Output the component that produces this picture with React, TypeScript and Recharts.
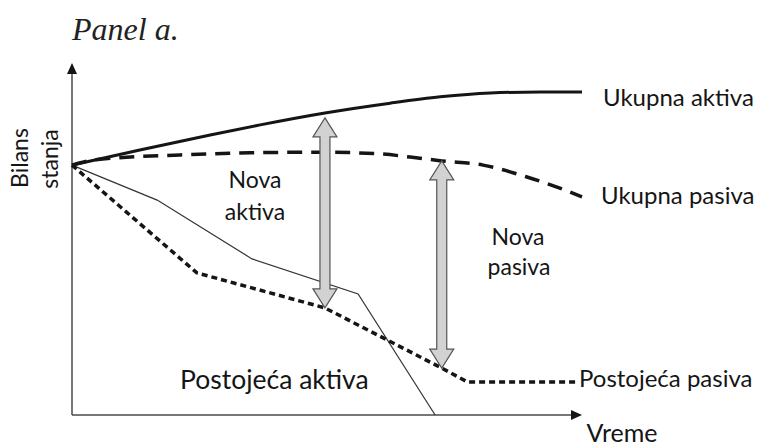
import { LineChart, Line, XAxis, YAxis, ReferenceLine } from "recharts";

// Balance sheet over time (schematic). x = time 0..100, y = balance 0..100.
const aktivaX = [0, 13.3, 27.1, 36.9, 49.6, 62.4, 72.2, 82.0, 91.8, 100];
const aktivaY = [71.4, 75.7, 80.0, 82.9, 86.3, 89.1, 90.9, 92.0, 92.3, 92.3];

const pasivaX = [0, 4.5, 21.2, 34.9, 48.6, 60.4, 66.3, 72.5, 80.6, 89.2, 95.1, 100];
const pasivaY = [71.4, 72.9, 74.3, 74.9, 75.1, 74.6, 73.7, 72.6, 71.4, 68.0, 65.1, 62.3];

const postPasivaX = [0, 24.5, 49.6, 72.5, 77.6, 99.2];
const postPasivaY = [71.4, 40.6, 30.6, 13.4, 9.4, 9.4];

const postAktivaX = [0, 16.7, 35.3, 56.1, 71.2];
const postAktivaY = [71.4, 61.4, 44.6, 34.6, 0];

// double arrows: [x, top, bottom]
const novaAktivaArrow = [49.6, 84.9, 30.6];
const novaPasivaArrow = [72.5, 72.6, 13.4];

const toPoints = (xs: number[], ys: number[]) => xs.map((x, i) => ({ x, y: ys[i] }));

const INK = "#151515";
const FONT = "Lato, 'Open Sans', sans-serif";

function AxisArrow(props: any) {
  const { x1, y1, x2, y2 } = props;
  const len = Math.hypot(x2 - x1, y2 - y1) || 1;
  const ux = (x2 - x1) / len;
  const uy = (y2 - y1) / len;
  const bx = x2 - ux * 11;
  const by = y2 - uy * 11;
  const px = -uy * 5;
  const py = ux * 5;
  return (
    <g>
      <line x1={x1} y1={y1} x2={bx} y2={by} stroke="#4a4a4a" strokeWidth={1.5} />
      <polygon points={`${x2},${y2} ${bx + px},${by + py} ${bx - px},${by - py}`} fill={INK} />
    </g>
  );
}

function DoubleArrow(props: any) {
  const { x1, y1, y2 } = props;
  const top = Math.min(y1, y2);
  const bot = Math.max(y1, y2);
  const hw = 12; // head half width
  const sw = 5; // shaft half width
  const hl = 19; // head length
  const x = x1;
  const pts = [
    [x, top],
    [x + hw, top + hl],
    [x + sw, top + hl],
    [x + sw, bot - hl],
    [x + hw, bot - hl],
    [x, bot],
    [x - hw, bot - hl],
    [x - sw, bot - hl],
    [x - sw, top + hl],
    [x - hw, top + hl],
  ]
    .map((p) => p.join(","))
    .join(" ");
  return <polygon points={pts} fill="#d2d2d2" stroke="#555" strokeWidth={1.2} />;
}

export default function App() {
  return (
    <div style={{ position: "absolute", left: 0, top: 0, width: 760, height: 448, background: "#fff" }}>
      <LineChart width={760} height={448} margin={{ top: 65, right: 178, bottom: 33, left: 72 }}>
        <XAxis type="number" dataKey="x" domain={[0, 100]} hide />
        <YAxis type="number" dataKey="y" domain={[0, 100]} hide />
        <ReferenceLine
          segment={[{ x: 0, y: 0 }, { x: 0, y: 100.6 }]}
          ifOverflow="visible"
          shape={(p: any) => <AxisArrow {...p} />}
        />
        <ReferenceLine
          segment={[{ x: 0, y: 0 }, { x: 100, y: 0 }]}
          ifOverflow="visible"
          shape={(p: any) => <AxisArrow {...p} />}
        />
        <Line
          data={toPoints(postAktivaX, postAktivaY)}
          dataKey="y"
          type="linear"
          stroke="#333"
          strokeWidth={1.2}
          dot={false}
          isAnimationActive={false}
        />
        <Line
          data={toPoints(postPasivaX, postPasivaY)}
          dataKey="y"
          type="linear"
          stroke={INK}
          strokeWidth={3.5}
          strokeDasharray="6 4"
          dot={false}
          isAnimationActive={false}
        />
        <Line
          data={toPoints(pasivaX, pasivaY)}
          dataKey="y"
          type="monotone"
          stroke={INK}
          strokeWidth={3.5}
          strokeDasharray="15 9"
          dot={false}
          isAnimationActive={false}
        />
        <Line
          data={toPoints(aktivaX, aktivaY)}
          dataKey="y"
          type="monotone"
          stroke={INK}
          strokeWidth={3}
          dot={false}
          isAnimationActive={false}
        />
        <ReferenceLine
          segment={[{ x: novaAktivaArrow[0], y: novaAktivaArrow[1] }, { x: novaAktivaArrow[0], y: novaAktivaArrow[2] }]}
          ifOverflow="visible"
          shape={(p: any) => <DoubleArrow {...p} />}
        />
        <ReferenceLine
          segment={[{ x: novaPasivaArrow[0], y: novaPasivaArrow[1] }, { x: novaPasivaArrow[0], y: novaPasivaArrow[2] }]}
          ifOverflow="visible"
          shape={(p: any) => <DoubleArrow {...p} />}
        />
      </LineChart>
      <svg
        width={760}
        height={448}
        style={{ position: "absolute", left: 0, top: 0, pointerEvents: "none" }}
        fontFamily={FONT}
        fill={INK}
      >
        <text x={72} y={40} fontFamily="'Liberation Serif', serif" fontStyle="italic" fontSize={32} fill="#222">
          Panel a.
        </text>
        <text x={603} y={106} fontSize={24}>Ukupna aktiva</text>
        <text x={601} y={204} fontSize={24}>Ukupna pasiva</text>
        <text x={579} y={387} fontSize={24}>Postojeća pasiva</text>
        <text x={180} y={389} fontSize={26.5}>Postojeća aktiva</text>
        <text x={255} y={188} fontSize={23} textAnchor="middle">Nova</text>
        <text x={255} y={220} fontSize={23} textAnchor="middle">aktiva</text>
        <text x={518} y={245} fontSize={23} textAnchor="middle">Nova</text>
        <text x={519} y={275} fontSize={23} textAnchor="middle">pasiva</text>
        <text x={622} y={442} fontSize={25} textAnchor="middle">Vreme</text>
        <text x={28} y={158} fontSize={23} textAnchor="middle" transform="rotate(-90 28 158)">Bilans</text>
        <text x={58} y={159} fontSize={23} textAnchor="middle" transform="rotate(-90 58 159)">stanja</text>
      </svg>
    </div>
  );
}
